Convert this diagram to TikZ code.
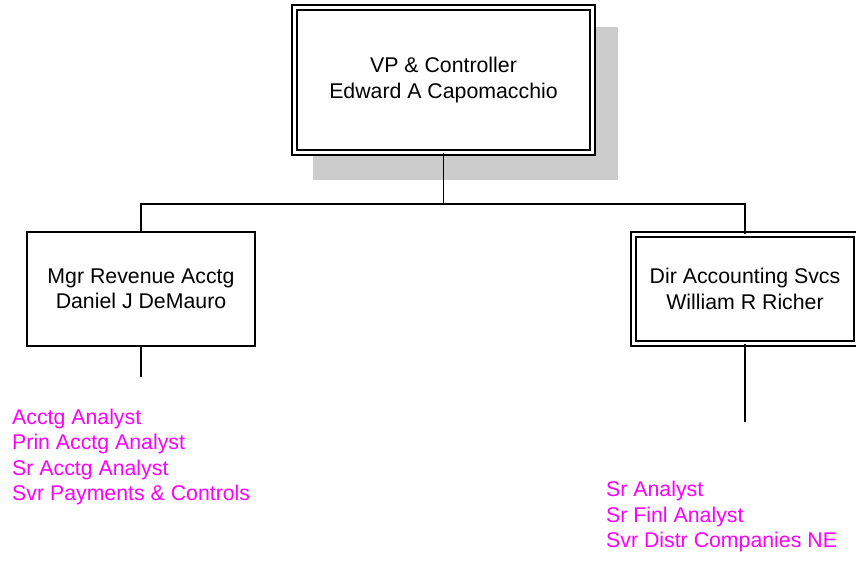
\documentclass[tikz,border=0pt]{standalone}
\usepackage{fontspec}
\setmainfont{Liberation Sans}
\usetikzlibrary{backgrounds}
\definecolor{titlepink}{RGB}{255,0,255}
\definecolor{shadowgray}{RGB}{204,204,204}

\begin{document}
\begin{tikzpicture}[
  x=1pt, y=-1pt,
  font=\fontsize{21.3}{25.5}\selectfont,
  post/.style={draw,line width=1.2pt,fill=white,align=center,inner sep=0pt},
  headpost/.style={post,double,double distance=3.8pt},
  link/.style={line width=1.5pt},
  titles/.style={align=left,anchor=north west,inner sep=0pt,text=titlepink}
]
  \useasboundingbox (0,0) rectangle (856,563);

  \node[headpost,minimum width=298pt,minimum height=145pt]
    (vp) at (443.5,80) {VP \& Controller\\Edward A Capomacchio};
  \node[post,minimum width=228pt,minimum height=114pt]
    (mgr) at (141,289) {Mgr Revenue Acctg\\Daniel J DeMauro};
  \node[headpost,minimum width=223pt,minimum height=109pt]
    (dir) at (745,289) {Dir Accounting Svcs\\William R Richer};

  % shadow behind the top box
  \begin{scope}[on background layer]
    \fill[shadowgray] ([shift={(19pt,-20pt)}]vp.north west)
      rectangle ([shift={(25pt,-27pt)}]vp.south east);
  \end{scope}

  \coordinate (busL) at (141,204);
  \coordinate (busR) at (745,204);
  \coordinate (stubL) at (141,377);
  \coordinate (stubR) at (745,422);

  \draw[link] (vp.south) |- (busL) -- (mgr.north);
  \draw[link] (vp.south) |- (busR) -- (dir.north);
  \draw[link] (mgr.south) -- (stubL);
  \draw[link] (dir.south) -- (stubR);

  \node[titles] (mgrtitles) at (12,408.7)
    {Acctg Analyst\\Prin Acctg Analyst\\Sr Acctg Analyst\\Svr Payments \& Controls};
  \node[titles] (dirtitles) at (606,481)
    {Sr Analyst\\Sr Finl Analyst\\Svr Distr Companies NE};
\end{tikzpicture}
\end{document}
